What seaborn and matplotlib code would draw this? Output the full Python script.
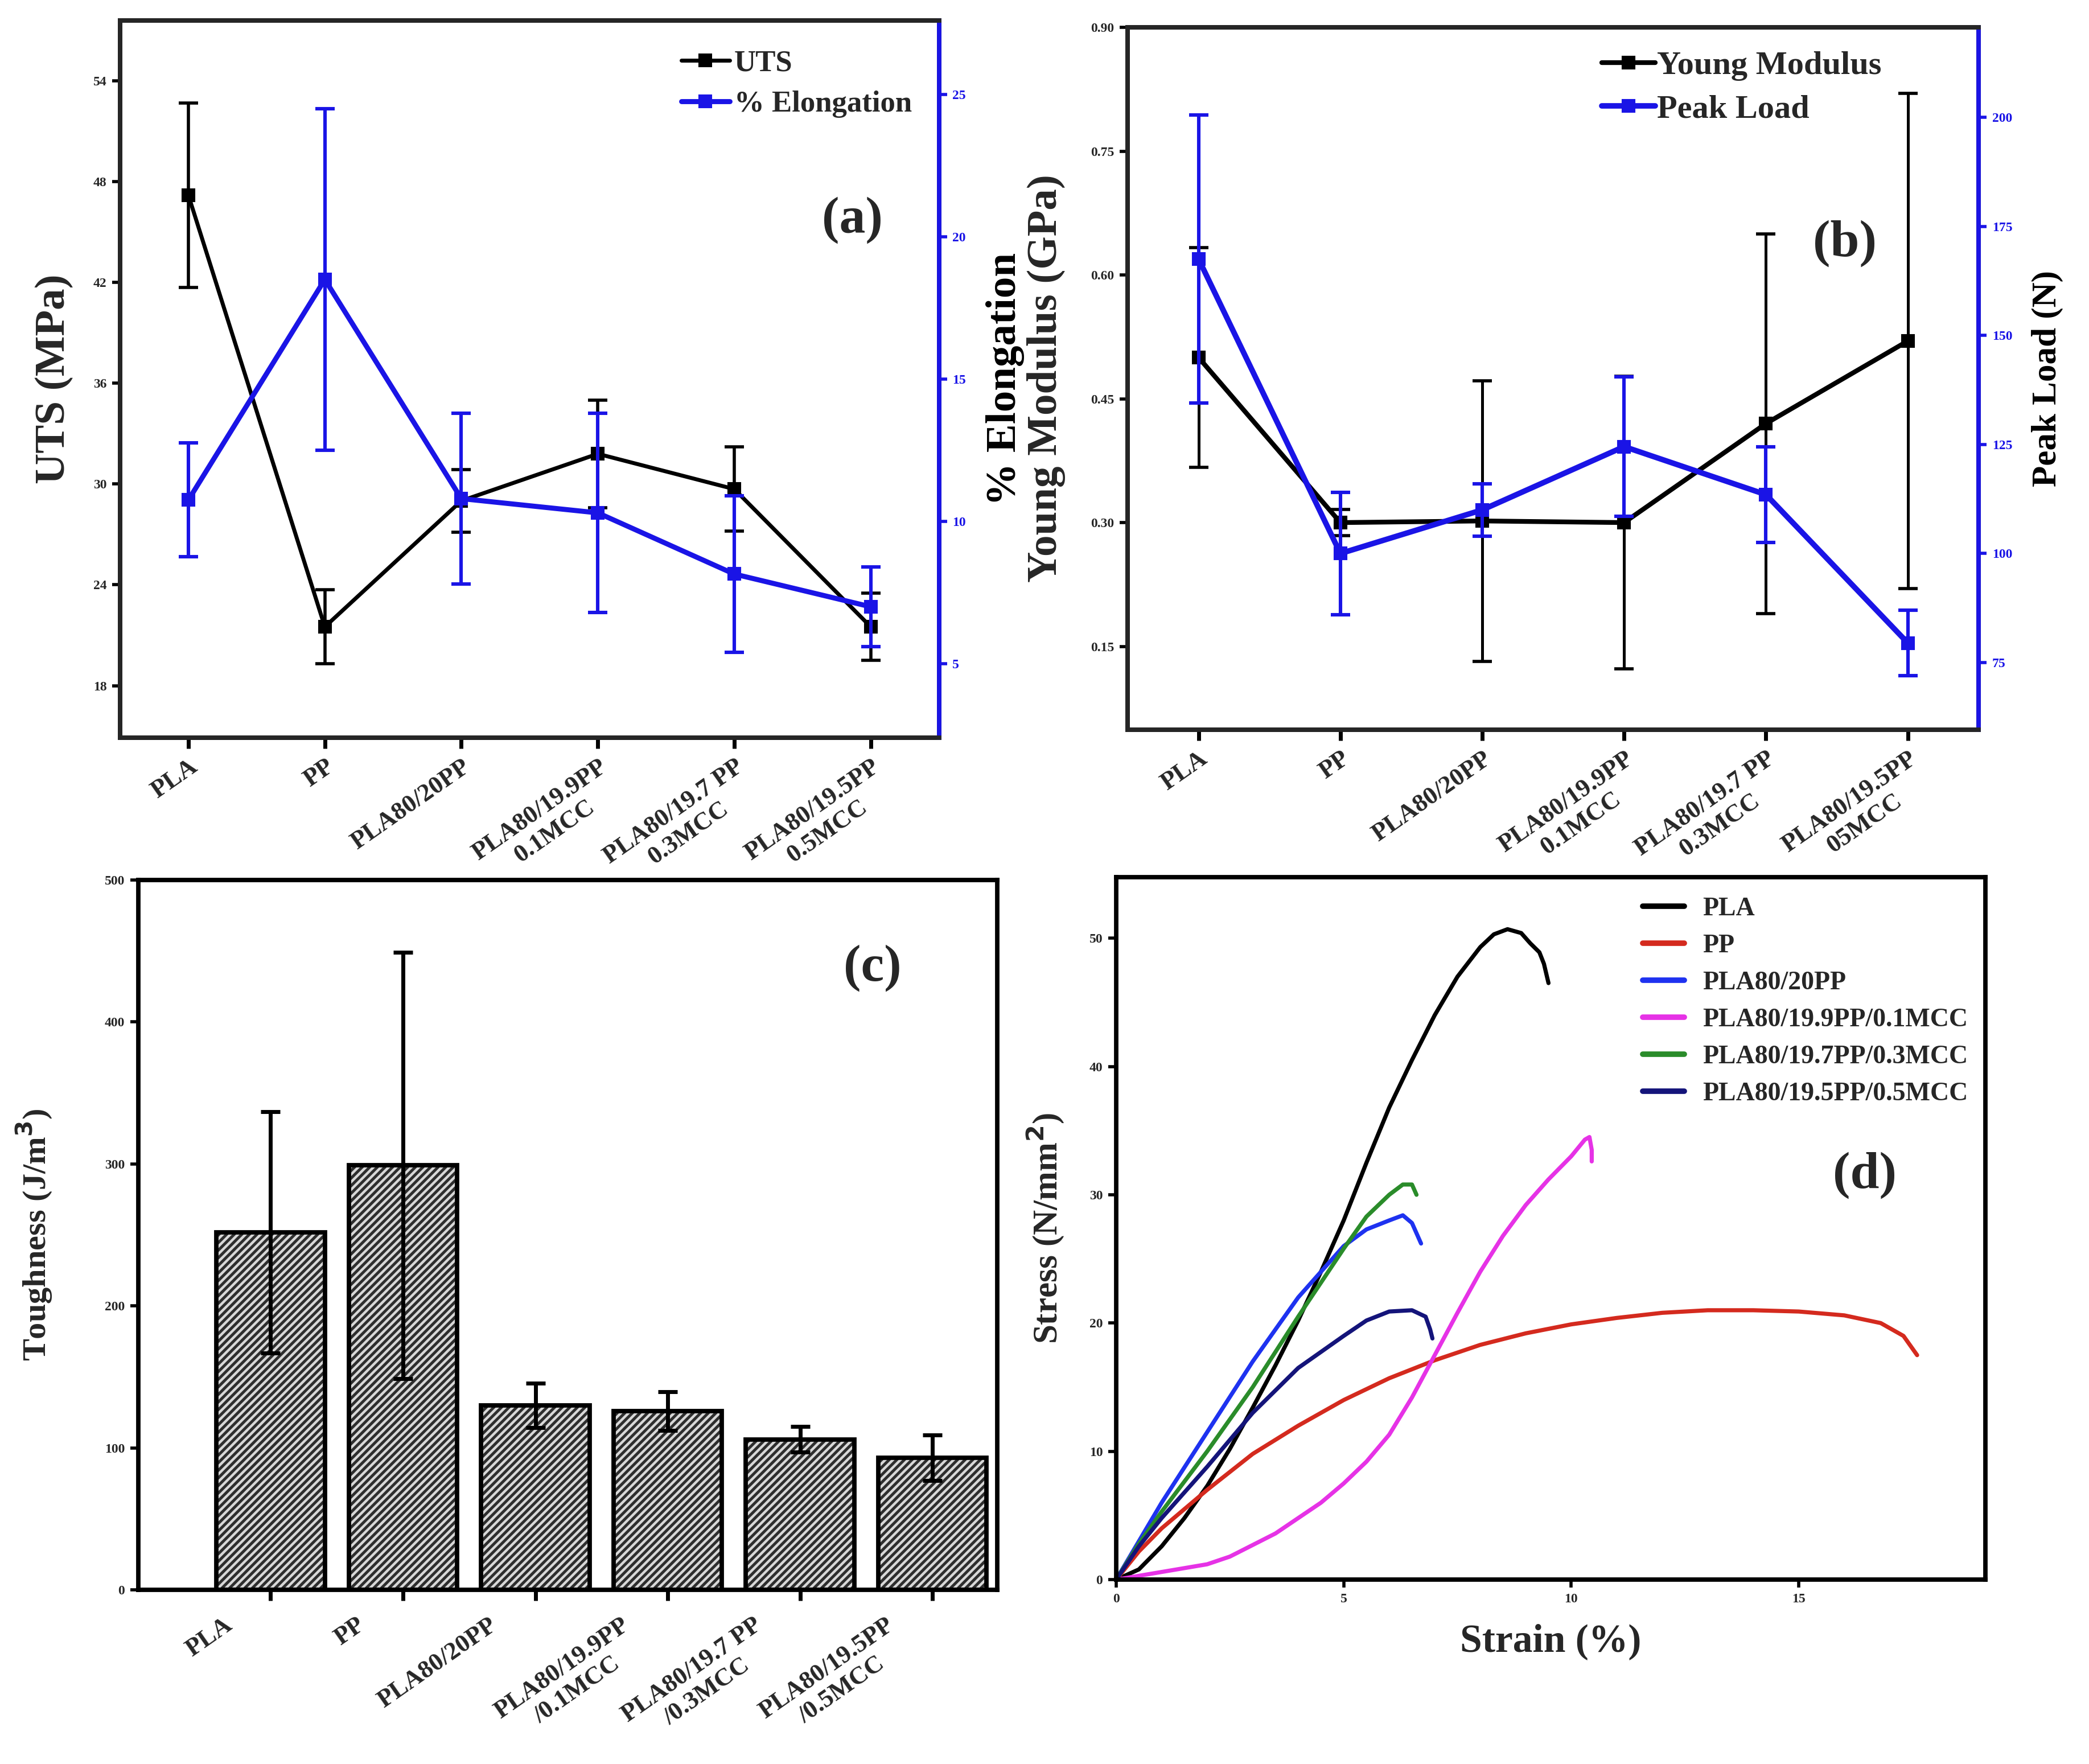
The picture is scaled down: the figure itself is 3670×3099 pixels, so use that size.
import numpy as np
import pandas as pd
import seaborn as sns
import matplotlib.pyplot as plt
import matplotlib.transforms as mtransforms

# sample names
samples_a = ["PLA", "PP", "PLA80/20PP", "PLA80/19.9PP\n0.1MCC", "PLA80/19.7 PP\n0.3MCC", "PLA80/19.5PP\n0.5MCC"]
samples_b = ["PLA", "PP", "PLA80/20PP", "PLA80/19.9PP\n0.1MCC", "PLA80/19.7 PP\n0.3MCC", "PLA80/19.5PP\n05MCC"]
samples_c = ["PLA", "PP", "PLA80/20PP", "PLA80/19.9PP\n/0.1MCC", "PLA80/19.7 PP\n/0.3MCC", "PLA80/19.5PP\n/0.5MCC"]

# (a) UTS and elongation
uts = [47.2, 21.5, 29.0, 31.8, 29.7, 21.5]
uts_err = [5.5, 2.2, 1.85, 3.2, 2.5, 2.0]
elong = [10.75, 18.5, 10.8, 10.3, 8.15, 7.0]
elong_err = [2.0, 6.0, 3.0, 3.5, 2.75, 1.4]

# (b) Young modulus and peak load
young = [0.50, 0.30, 0.302, 0.30, 0.42, 0.52]
young_err = [0.133, 0.016, 0.17, 0.177, 0.23, 0.30]
peak = [167.5, 100, 110, 124.5, 113.5, 79.5]
peak_err = [33, 14, 6, 16, 11, 7.5]

# (c) toughness
tough = [252, 299, 130, 126, 106, 93]
tough_err = [85, 150, 15.5, 13.5, 9, 16]

# (d) stress-strain curves
pla_x = [0, 0.5, 1, 1.5, 2, 2.5, 3, 3.5, 4, 4.5, 5, 5.5, 6, 6.5, 7, 7.5, 8, 8.3, 8.6, 8.9, 9.1, 9.3, 9.4, 9.5]
pla_y = [0, 0.8, 2.6, 4.8, 7.3, 10.2, 13.4, 16.7, 20.2, 24, 28, 32.5, 36.8, 40.5, 44, 47, 49.3, 50.3, 50.7, 50.4, 49.6, 48.9, 48.0, 46.5]
pp_x = [0, 0.5, 1, 2, 3, 4, 5, 6, 7, 8, 9, 10, 11, 12, 13, 14, 15, 16, 16.8, 17.3, 17.6]
pp_y = [0, 2.2, 4, 7, 9.8, 12, 14, 15.7, 17.1, 18.3, 19.2, 19.9, 20.4, 20.8, 21, 21, 20.9, 20.6, 20, 19, 17.5]
b20_x = [0, 0.5, 1, 2, 3, 4, 5, 5.5, 6, 6.3, 6.5, 6.6, 6.7]
b20_y = [0, 3, 6, 11.5, 17, 22, 26, 27.3, 28, 28.4, 27.8, 27, 26.2]
m01_x = [0, 0.5, 1, 1.5, 2, 2.5, 3, 3.5, 4, 4.5, 5, 5.5, 6, 6.5, 7, 7.5, 8, 8.5, 9, 9.5, 10, 10.3, 10.4, 10.45, 10.45]
m01_y = [0, 0.3, 0.6, 0.9, 1.2, 1.8, 2.7, 3.6, 4.8, 6, 7.5, 9.2, 11.3, 14.2, 17.5, 20.8, 24, 26.8, 29.2, 31.2, 33, 34.3, 34.5, 33.5, 32.6]
m03_x = [0, 0.5, 1, 2, 3, 4, 5, 5.5, 6, 6.3, 6.5, 6.6]
m03_y = [0, 2.8, 5.3, 10, 15, 20.5, 25.8, 28.3, 30, 30.8, 30.8, 30]
m05_x = [0, 0.5, 1, 2, 3, 4, 5, 5.5, 6, 6.5, 6.8, 6.9, 6.95]
m05_y = [0, 2.6, 4.8, 8.8, 13, 16.5, 19, 20.2, 20.9, 21, 20.5, 19.5, 18.8]
curve_names = ["PLA", "PP", "PLA80/20PP", "PLA80/19.9PP/0.1MCC", "PLA80/19.7PP/0.3MCC", "PLA80/19.5PP/0.5MCC"]
curve_colors = ["black", "#d42a1e", "#1e32f0", "#e632e6", "#2a8c2a", "#14147a"]

sns.set_style("ticks")
plt.rcParams['font.family'] = ['Liberation Serif', 'DejaVu Serif']
plt.rcParams['font.weight'] = 'bold'
plt.rcParams['axes.labelweight'] = 'bold'
plt.rcParams['hatch.linewidth'] = 1.6

BLUE = "#1a14e6"
fig = plt.figure(figsize=(18.35, 15.495), dpi=200)


def style_axes(ax):
    for s in ax.spines.values():
        s.set_linewidth(2.8)
        s.set_color("black")
        s.set_visible(True)
    ax.tick_params(direction='out', length=5, width=2, labelsize=8.5, color="black")


def style_right(ax2):
    for s in ax2.spines.values():
        s.set_linewidth(2.8)
    ax2.spines['right'].set_color(BLUE)
    ax2.tick_params(axis='y', direction='out', length=5, width=2, labelsize=8.5,
                    colors=BLUE)


def cat_labels(ax, labels, shift=0):
    ax.set_xticks(range(6))
    ax.set_xticklabels(labels, rotation=35, ha='right', rotation_mode='anchor',
                       fontsize=16, fontweight='bold', multialignment='center')
    ax.tick_params(axis='x', length=7, width=2.5, pad=4)
    if shift:
        off = mtransforms.ScaledTranslation(shift / 72, -4 / 72, fig.dpi_scale_trans)
        for lab in ax.get_xticklabels():
            lab.set_transform(lab.get_transform() + off)


x = np.arange(6)

# ---------- (a)
ax = fig.add_axes([0.0575, 0.5818, 0.392, 0.4066])
ax2 = ax.twinx()
sns.lineplot(x=x, y=uts, ax=ax, color="black", marker='s', markersize=8, linewidth=2.5,
             markeredgecolor="black", label="UTS", legend=False)
ax.errorbar(x, uts, yerr=uts_err, fmt='none', ecolor='black', elinewidth=2, capsize=6, capthick=2)
sns.lineplot(x=x, y=elong, ax=ax2, color=BLUE, marker='s', markersize=8, linewidth=3.2,
             markeredgecolor=BLUE, label="% Elongation", legend=False)
ax2.errorbar(x, elong, yerr=elong_err, fmt='none', ecolor=BLUE, elinewidth=2.2, capsize=6, capthick=2.2)
ax.set_xlim(-0.5, 5.5)
ax.set_ylim(14.9, 57.6)
ax.set_yticks([18, 24, 30, 36, 42, 48, 54])
ax2.set_ylim(2.4, 27.6)
ax2.set_yticks([5, 10, 15, 20, 25])
style_axes(ax)
style_right(ax2)
cat_labels(ax, samples_a)
ax.set_ylabel("UTS (MPa)", fontsize=27)
ax.yaxis.set_label_coords(-0.057, 0.5)
ax2.set_ylabel("% Elongation", fontsize=27, color="black")
ax2.yaxis.set_label_coords(1.057, 0.5)
h1, l1 = ax.get_legend_handles_labels()
h2, l2 = ax2.get_legend_handles_labels()
ax2.legend(h1 + h2, l1 + l2, loc='upper right', bbox_to_anchor=(0.985, 0.98), frameon=False,
           fontsize=19, handlelength=1.6, handletextpad=0.15, labelspacing=0.45, borderaxespad=0.1)
ax2.text(0.894, 0.722, "(a)", transform=ax2.transAxes, ha='center', va='center', fontsize=33, fontweight='bold')

# ---------- (b)
ax = fig.add_axes([0.5398, 0.5863, 0.4074, 0.3982])
ax2 = ax.twinx()
sns.lineplot(x=x, y=young, ax=ax, color="black", marker='s', markersize=8, linewidth=3,
             markeredgecolor="black", label="Young Modulus", legend=False)
ax.errorbar(x, young, yerr=young_err, fmt='none', ecolor='black', elinewidth=1.8, capsize=6, capthick=2)
sns.lineplot(x=x, y=peak, ax=ax2, color=BLUE, marker='s', markersize=8, linewidth=3.5,
             markeredgecolor=BLUE, label="Peak Load", legend=False)
ax2.errorbar(x, peak, yerr=peak_err, fmt='none', ecolor=BLUE, elinewidth=2.2, capsize=6, capthick=2.2)
ax.set_xlim(-0.5, 5.5)
ax.set_ylim(0.049, 0.90)
ax.set_yticks([0.15, 0.30, 0.45, 0.60, 0.75, 0.90])
ax.set_yticklabels(["0.15", "0.30", "0.45", "0.60", "0.75", "0.90"])
ax2.set_ylim(59.6, 220.6)
ax2.set_yticks([75, 100, 125, 150, 175, 200])
style_axes(ax)
style_right(ax2)
cat_labels(ax, samples_b)
ax.set_ylabel("Young Modulus (GPa)", fontsize=27)
ax.yaxis.set_label_coords(-0.073, 0.5)
ax2.set_ylabel("Peak Load (N)", fontsize=22, color="black")
ax2.yaxis.set_label_coords(1.062, 0.5)
h1, l1 = ax.get_legend_handles_labels()
h2, l2 = ax2.get_legend_handles_labels()
ax2.legend(h1 + h2, l1 + l2, loc='upper right', bbox_to_anchor=(0.905, 0.99), frameon=False,
           fontsize=21, handlelength=1.6, handletextpad=0.05, labelspacing=0.4, borderaxespad=0.1)
ax2.text(0.843, 0.692, "(b)", transform=ax2.transAxes, ha='center', va='center', fontsize=33, fontweight='bold')

# ---------- (c)
ax = fig.add_axes([0.0662, 0.0987, 0.4112, 0.4024])
sns.barplot(x=samples_c, y=tough, ax=ax, color="#2e2e2e", saturation=1, width=0.82, errorbar=None)
for p in ax.patches:
    p.set_hatch('/////')
    p.set_edgecolor('#d8d8d8')
    p.set_linewidth(0)
ax.bar(x, tough, width=0.82, fill=False, edgecolor='black', linewidth=2.8)
ax.errorbar(x, tough, yerr=tough_err, fmt='none', ecolor='black', elinewidth=2.5, capsize=6, capthick=2.5)
ax.set_xlim(-1.0, 5.49)
ax.set_ylim(0, 500)
ax.set_yticks([0, 100, 200, 300, 400, 500])
style_axes(ax)
cat_labels(ax, samples_c, shift=-30)
ax.set_xlabel("")
ax.set_ylabel("Toughness (J/m$^\\mathbf{3}$)", fontsize=21)
ax.yaxis.set_label_coords(-0.099, 0.5)
ax.text(0.855, 0.876, "(c)", transform=ax.transAxes, ha='center', va='center', fontsize=33, fontweight='bold')

# ---------- (d)
ax = fig.add_axes([0.5343, 0.1045, 0.4161, 0.3982])
curves = [(pla_x, pla_y), (pp_x, pp_y), (b20_x, b20_y), (m01_x, m01_y), (m03_x, m03_y), (m05_x, m05_y)]
for (cx, cy), name, col in zip(curves, curve_names, curve_colors):
    sns.lineplot(x=cx, y=cy, ax=ax, color=col, linewidth=2.6, sort=False, estimator=None, label=name)
ax.set_xlim(0, 19.1)
ax.set_ylim(0, 54.75)
ax.set_xticks([0, 5, 10, 15])
ax.set_yticks([0, 10, 20, 30, 40, 50])
style_axes(ax)
ax.set_xlabel("Strain (%)", fontsize=25)
ax.xaxis.set_label_coords(0.5, -0.062)
ax.set_ylabel("Stress (N/mm$^\\mathbf{2}$)", fontsize=22)
ax.yaxis.set_label_coords(-0.058, 0.5)
leg = ax.legend(loc='upper right', bbox_to_anchor=(0.995, 0.99), frameon=False, fontsize=16.5,
                handlelength=1.6, handletextpad=0.7, labelspacing=0.5, borderaxespad=0.1)
for line in leg.get_lines():
    line.set_linewidth(3.5)
ax.text(0.861, 0.576, "(d)", transform=ax.transAxes, ha='center', va='center', fontsize=33, fontweight='bold')

fig.savefig("out.png", dpi=200)
